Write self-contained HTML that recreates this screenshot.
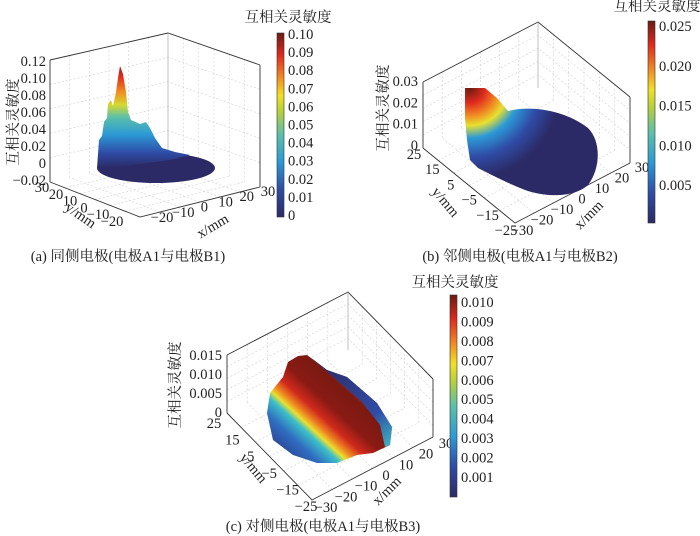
<!DOCTYPE html>
<html><head><meta charset="utf-8"><style>
html,body{margin:0;padding:0;background:#fff}
svg{display:block}
text{font-family:"Liberation Serif","Noto Serif CJK SC",serif;fill:#222}
</style></head><body>
<svg id="fig" width="700" height="536" viewBox="0 0 700 536">
<defs>
<linearGradient id="jet" x1="0" y1="1" x2="0" y2="0">
<stop offset="0" stop-color="#2b2a66"/><stop offset="0.15" stop-color="#2f4ca6"/><stop offset="0.3" stop-color="#2c9ad6"/><stop offset="0.45" stop-color="#5cc0a8"/><stop offset="0.57" stop-color="#b4d03c"/><stop offset="0.66" stop-color="#f2e024"/><stop offset="0.76" stop-color="#f08a22"/><stop offset="0.88" stop-color="#e02a1e"/><stop offset="1" stop-color="#6a1a12"/>
</linearGradient>
<linearGradient id="surfA" gradientUnits="userSpaceOnUse" x1="0" y1="168" x2="0" y2="66">
<stop offset="0" stop-color="#2b2a66"/><stop offset="0.15" stop-color="#2f4ca6"/><stop offset="0.33" stop-color="#2c9ad6"/><stop offset="0.5" stop-color="#5cc0a8"/><stop offset="0.62" stop-color="#d8d830"/><stop offset="0.75" stop-color="#f08a22"/><stop offset="0.9" stop-color="#e02a1e"/><stop offset="1" stop-color="#9a1e14"/>
</linearGradient>
<radialGradient id="surfB" gradientUnits="userSpaceOnUse" cx="470" cy="88" r="125">
<stop offset="0" stop-color="#6a1a12"/><stop offset="0.12" stop-color="#e02a1e"/><stop offset="0.22" stop-color="#f08a22"/><stop offset="0.3" stop-color="#e8e030"/><stop offset="0.4" stop-color="#2c9ad6"/><stop offset="0.55" stop-color="#2f4ca6"/><stop offset="0.72" stop-color="#2b2a66"/>
</radialGradient>
<linearGradient id="surfC" gradientUnits="userSpaceOnUse" x1="356" y1="368" x2="276" y2="455">
<stop offset="0" stop-color="#2b2a66"/><stop offset="0.06" stop-color="#2f5cb6"/><stop offset="0.1" stop-color="#e02a1e"/><stop offset="0.2" stop-color="#7a1a12"/><stop offset="0.38" stop-color="#8a1a14"/><stop offset="0.5" stop-color="#d02a1c"/><stop offset="0.58" stop-color="#f08a22"/><stop offset="0.63" stop-color="#e8e030"/><stop offset="0.68" stop-color="#3cc0c8"/><stop offset="0.8" stop-color="#2f6cc0"/><stop offset="1" stop-color="#2b3a86"/>
</linearGradient>
<linearGradient id="stripC" gradientUnits="userSpaceOnUse" x1="320" y1="360" x2="390" y2="445">
<stop offset="0" stop-color="#2b2a66"/><stop offset="0.7" stop-color="#2f4ca6"/><stop offset="1" stop-color="#3cb0c0"/>
</linearGradient>
</defs>
<g id="root"></g>
</svg>
<script>
// colorbar tick labels
const cbTicksA=["0.10","0.09","0.08","0.07","0.06","0.05","0.04","0.03","0.02","0.01","0"];
const cbTicksB=["0.025","0.020","0.015","0.010","0.005"];
const cbTicksC=["0.010","0.009","0.008","0.007","0.006","0.005","0.004","0.003","0.002","0.001"];
// axis tick labels
const zTicksA=["0.12","0.10","0.08","0.06","0.04","0.02","0","−0.02"];
const yTicksA=["30","20","10","0","−10","−20"];
const xTicksA=["−20","−10","0","10","20","30"];
const zTicksB=["0.03","0.02","0.01","0"];
const yTicksB=["25","15","5","−5","−15","−25"];
const xTicksB=["−30","−20","−10","0","10","20","30"];
const zTicksC=["0.015","0.010","0.005","0"];
const yTicksC=["25","15","5","−5","−15","−25"];
const xTicksC=["−30","−20","−10","0","10","20","30"];

const FS=14.5;
const NS="http://www.w3.org/2000/svg";
const root=document.getElementById('root');
function mk(tag,attrs,parent){const e=document.createElementNS(NS,tag);for(const k in attrs)e.setAttribute(k,attrs[k]);(parent||root).appendChild(e);return e;}
function txt(s,x,y,size,anchor,parent,rot){const t=mk('text',{x:x,y:y,'font-size':size,'text-anchor':anchor||'start'},parent);if(rot)t.setAttribute('transform','rotate('+rot+' '+x+' '+y+')');t.textContent=s;return t;}
function lerp(a,b,t){return a+(b-a)*t;}
function spread(list,p0,p1,size,anchor,g,name){
  list.forEach((s,i)=>{const t=list.length>1?i/(list.length-1):0;
    const e=txt(s,lerp(p0[0],p1[0],t),lerp(p0[1],p1[1],t),size,anchor,g);
    
    });
}
function box(g,L,T,R,F,h,name){
  const grid=mk('g',{stroke:'#cfcfcf','stroke-width':0.6,'stroke-dasharray':'2,2',fill:'none'},g);
  
  
  for(let i=1;i<6;i++){const t=i/6;
    mk('line',{x1:lerp(L[0],T[0],t),y1:lerp(L[1],T[1],t),x2:lerp(L[0],T[0],t),y2:lerp(L[1],T[1],t)-h},grid);
    mk('line',{x1:lerp(T[0],R[0],t),y1:lerp(T[1],R[1],t),x2:lerp(T[0],R[0],t),y2:lerp(T[1],R[1],t)-h},grid);
    mk('line',{x1:lerp(L[0],F[0],t),y1:lerp(L[1],F[1],t),x2:lerp(T[0],R[0],t),y2:lerp(T[1],R[1],t)},grid);
    mk('line',{x1:lerp(F[0],R[0],t),y1:lerp(F[1],R[1],t),x2:lerp(L[0],T[0],t),y2:lerp(L[1],T[1],t)},grid);}
  for(let i=1;i<5;i++){const dy=h*i/5;
    mk('polyline',{points:[L[0],L[1]-dy,T[0],T[1]-dy,R[0],R[1]-dy].join(',')},grid);}
  const fr=mk('g',{stroke:'#333','stroke-width':0.9,fill:'none'},g);
  
  
  mk('polyline',{points:[L[0],L[1]-h,T[0],T[1]-h,R[0],R[1]-h].join(',')},fr);
  mk('line',{x1:L[0],y1:L[1],x2:L[0],y2:L[1]-h},fr);
  mk('line',{x1:R[0],y1:R[1],x2:R[0],y2:R[1]-h},fr);
  mk('line',{x1:T[0],y1:T[1],x2:T[0],y2:T[1]-h,stroke:'#999','stroke-width':0.6},fr);
  mk('polyline',{points:[L[0],L[1],F[0],F[1],R[0],R[1]].join(',')},fr);
}
function colorbar(g,x,y0,y1,ticks,ty0,ty1,title,tx,tyy,name){
  const r=mk('rect',{x:x,y:y0,width:7,height:y1-y0,fill:'url(#jet)',stroke:'#333','stroke-width':0.6},g);
  
  
  spread(ticks,[x+11,ty0],[x+11,ty1],FS,'start',g,name+'-colorbar-tick');
  const t=txt(title,tx,tyy,FS,'middle',g);
  
  
}
function panel(name){const g=mk('g',{});return g;}

// Panel A
let g=panel('panel-a');
box(g,[50,182],[168,155],[260,187],[140,217],122,'panel-a');
mk('ellipse',{cx:156,cy:168,rx:59,ry:15,fill:'#2b2a66'},g);
let s=mk('path',{d:'M97,168 L99,140 L102,136 L104,122 L107,118 L108,104 L111,100 L113,106 L116,92 L118,78 L120,66 L123,74 L126,92 L128,112 L131,120 L140,124 L146,122 L150,128 L155,138 L162,148 L175,152 L190,155 L170,160 L140,164 L110,168 Z',fill:'url(#surfA)'},g);

spread(zTicksA,[46,66],[46,185],FS,'end',g,'z-tick-a');
spread(yTicksA,[42,192],[112,226],FS,'middle',g,'y-tick-a');
spread(xTicksA,[162,222],[268,196],FS,'middle',g,'x-tick-a');
txt('互相关灵敏度',18,122,FS,'middle',g,-90);
txt('y/mm',78,219,FS,'middle',g,35);
txt('x/mm',215,230,FS,'middle',g,-30);
colorbar(g,277,33,217,cbTicksA,39,220,'互相关灵敏度',288,22,'panel-a');
txt('(a) 同侧电极(电极A1与电极B1)',128,261,FS,'middle',g);

// Panel B
g=panel('panel-b');
box(g,[423,148],[538,88],[630,163],[515,223],66,'panel-b');
s=mk('path',{d:'M465,88 L485,88 L497,98 L508,111 C530,105 565,110 588,128 C602,142 600,170 588,185 C575,197 548,198 525,190 C505,182 492,175 478,168 L470,160 L467,140 L465,118 Z',fill:'url(#surfB)'},g);

spread(zTicksB,[418,86],[418,150],FS,'end',g,'z-tick-b');
spread(yTicksB,[414,159],[506,235],FS,'middle',g,'y-tick-b');
spread(xTicksB,[522,235],[642,172],FS,'middle',g,'x-tick-b');
txt('互相关灵敏度',388,108,FS,'middle',g,-90);
txt('y/mm',442,205,FS,'middle',g,50);
txt('x/mm',592,218,FS,'middle',g,-45);
colorbar(g,648,21,223,cbTicksB,31,190,'互相关灵敏度',657,11,'panel-b');
txt('(b) 邻侧电极(电极A1与电极B2)',520,261,FS,'middle',g);

// Panel C
g=panel('panel-c');
box(g,[227,413],[348,350],[433,437],[312,500],58,'panel-c');
s=mk('path',{d:'M288,362 L298,356 L307,355 L327,370 L347,377 L377,403 L392,427 L390,445 L373,453 L357,455 L337,463 L317,463 L293,455 L273,440 L267,413 L270,393 L283,377 Z',fill:'url(#surfC)'},g);

s=mk('path',{d:'M310,357 L327,370 L347,377 L377,403 L392,427 L390,445 L385,447 L380,425 L362,402 L340,383 Z',fill:'url(#stripC)'},g);

spread(zTicksC,[222,360],[222,417],FS,'end',g,'z-tick-c');
spread(yTicksC,[214,428],[306,511],FS,'middle',g,'y-tick-c');
spread(xTicksC,[326,512],[446,448],FS,'middle',g,'x-tick-c');
txt('互相关灵敏度',180,385,FS,'middle',g,-90);
txt('y/mm',250,471,FS,'middle',g,50);
txt('x/mm',390,494,FS,'middle',g,-45);
colorbar(g,450,295,497,cbTicksC,307,482,'互相关灵敏度',455,287,'panel-c');
txt('(c) 对侧电极(电极A1与电极B3)',323,531,FS,'middle',g);
</script>
</body></html>
